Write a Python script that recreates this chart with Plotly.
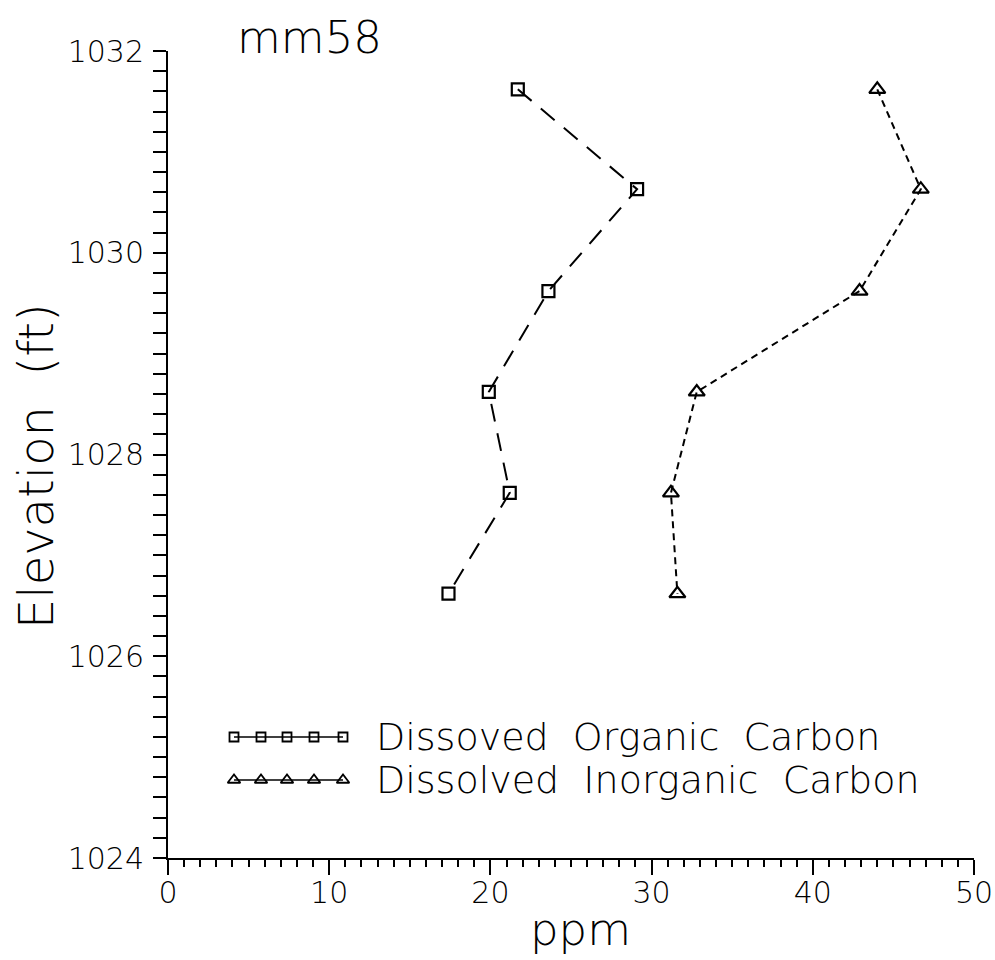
import plotly.graph_objects as go

# Sampling elevations (ft) and concentrations (ppm) at well mm58
elevation = [1031.62, 1030.63, 1029.62, 1028.62, 1027.62, 1026.62]
doc_ppm = [21.7, 29.1, 23.6, 19.9, 21.2, 17.4]
dic_ppm = [44.0, 46.7, 42.9, 32.8, 31.2, 31.6]

series_names = ["Dissoved\u00a0 Organic\u00a0 Carbon", "Dissolved\u00a0 Inorganic\u00a0 Carbon"]
title_text = "mm58"
x_title = "ppm"
y_title = "Elevation\u00a0 (ft)"

FONT = "DejaVu Sans"
W, H = 995, 960
ML, MR, MT, MB = 168, 21, 51, 102
PW, PH = W - ML - MR, H - MT - MB


def px_x(p):
    return (p - ML) / PW


def px_y(p):
    return (H - MB - p) / PH


fig = go.Figure()

fig.add_trace(go.Scatter(
    x=doc_ppm, y=elevation, mode="lines+markers",
    line=dict(color="black", width=2, dash="18px,12px"),
    marker=dict(symbol="square-open", size=12, color="black", line=dict(width=2.2)),
    showlegend=False,
))
fig.add_trace(go.Scatter(
    x=dic_ppm, y=elevation, mode="lines+markers",
    line=dict(color="black", width=2, dash="7px,5px"),
    marker=dict(symbol="triangle-up-open", size=14, color="black", line=dict(width=2.2)),
    showlegend=False,
))

# Key drawn inside the plot area: a row of symbols followed by the name
key_x = [px_x(p) for p in (234, 261, 287, 314, 343)]
key_rows = [
    (px_y(737), "square-open", 9, series_names[0]),
    (px_y(780), "triangle-up-open", 11, series_names[1]),
]
for ky, sym, sz, name in key_rows:
    fig.add_trace(go.Scatter(
        x=key_x, y=[ky] * len(key_x), xaxis="x2", yaxis="y2",
        mode="lines+markers",
        line=dict(color="black", width=1.5),
        marker=dict(symbol=sym, size=sz, color="black", line=dict(width=1.8)),
        showlegend=False, hoverinfo="skip",
    ))
    fig.add_annotation(
        x=px_x(374), y=ky, xref="paper", yref="paper",
        text=name, showarrow=False, xanchor="left", yanchor="middle",
        font=dict(family=FONT, size=38, color="black", weight=200),
    )

fig.add_annotation(
    x=px_x(235), y=px_y(38), xref="paper", yref="paper",
    text=title_text, showarrow=False, xanchor="left", yanchor="middle",
    font=dict(family=FONT, size=45, color="black", weight=200),
)
fig.add_annotation(
    x=px_x(580), y=px_y(929), xref="paper", yref="paper",
    text=x_title, showarrow=False, xanchor="center", yanchor="middle",
    font=dict(family=FONT, size=45, color="black", weight=200),
)
fig.add_annotation(
    x=px_x(36), y=px_y(466), xref="paper", yref="paper",
    text=y_title, showarrow=False, textangle=-90,
    xanchor="center", yanchor="middle",
    font=dict(family=FONT, size=48, color="black", weight=200),
)

tick_font = dict(family=FONT, size=30, color="black", weight=200)

fig.update_layout(
    width=W, height=H,
    margin=dict(l=ML, r=MR, t=MT, b=MB, autoexpand=False),
    paper_bgcolor="white", plot_bgcolor="white",
    xaxis=dict(
        range=[0, 50], dtick=10, tick0=0, automargin=False,
        showline=True, linecolor="black", linewidth=2,
        ticks="outside", ticklen=15, tickwidth=2, tickcolor="black",
        minor=dict(dtick=1, ticks="outside", ticklen=7, tickwidth=2, tickcolor="black"),
        showgrid=False, zeroline=False, tickfont=tick_font,
        ticklabelstandoff=-8,
    ),
    yaxis=dict(
        range=[1024, 1032], dtick=2, tick0=1024, automargin=False,
        showline=True, linecolor="black", linewidth=2,
        ticks="outside", ticklen=13, tickwidth=2, tickcolor="black",
        minor=dict(dtick=0.2, ticks="outside", ticklen=13, tickwidth=2, tickcolor="black"),
        showgrid=False, zeroline=False, tickfont=tick_font,
        ticklabelstandoff=3,
    ),
    xaxis2=dict(range=[0, 1], overlaying="x", visible=False, fixedrange=True),
    yaxis2=dict(range=[0, 1], overlaying="y", visible=False, fixedrange=True),
    showlegend=False,
)

fig.write_html("out.html")
